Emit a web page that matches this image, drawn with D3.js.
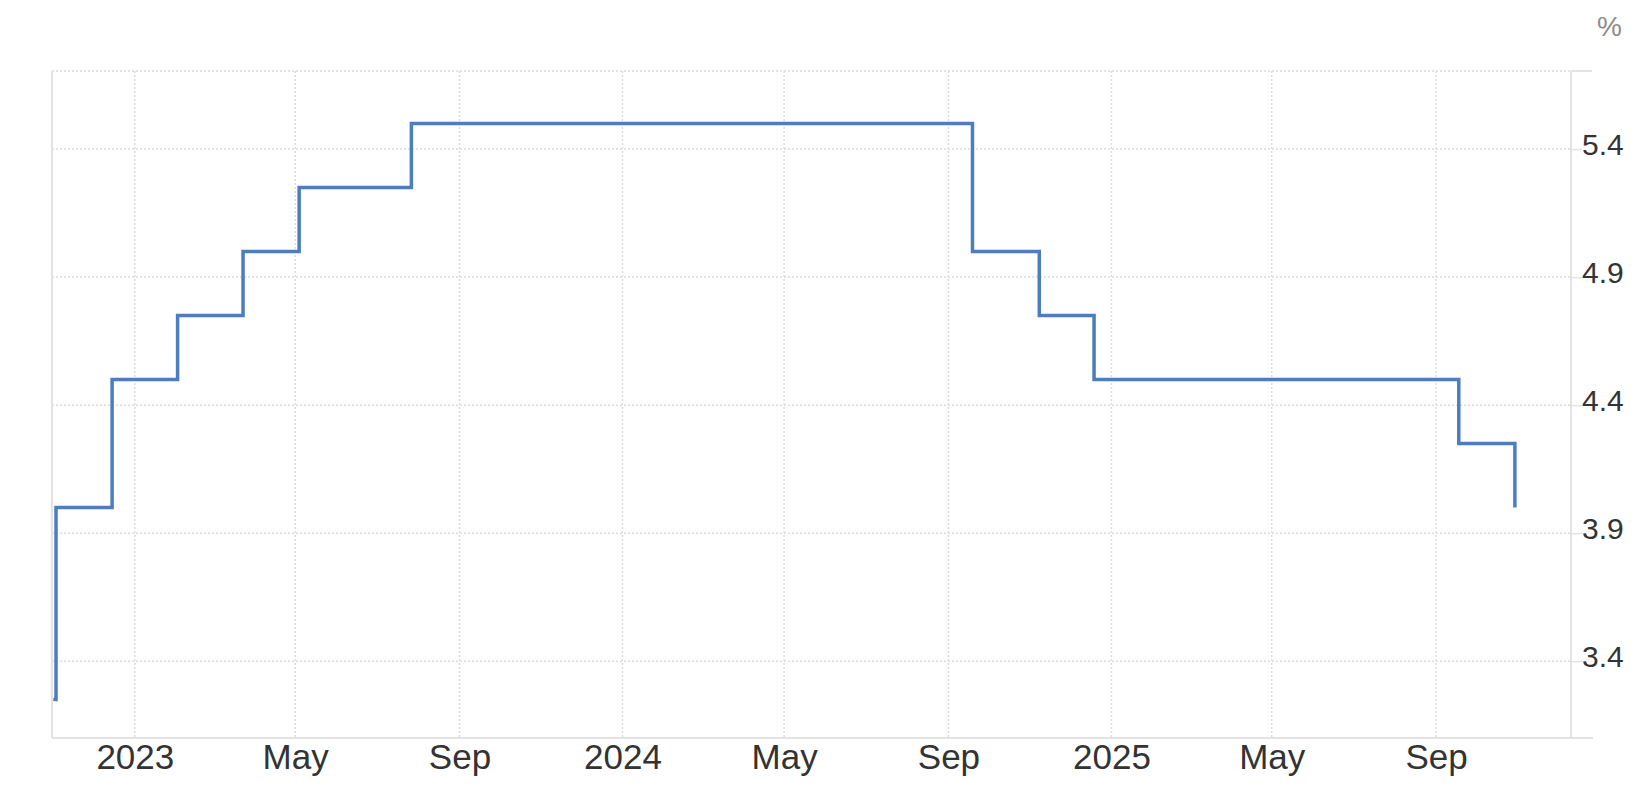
<!DOCTYPE html>
<html>
<head>
<meta charset="utf-8">
<script src="https://cdn.jsdelivr.net/npm/d3@7"></script>
<style>
  body { margin: 0; background: #fff; }
  .grid line { stroke: #dcdcdc; stroke-width: 1.5; stroke-dasharray: 2,2; }
  .xlab, .ylab { font-family: "Liberation Sans", Arial, Helvetica, sans-serif; fill: #333; }
</style>
</head>
<body>
<div id="chart"></div>
<script type="text/javascript">
// rate changes (upper bound), value holds from that date on
var dates = ["2022-11-01", "2022-11-03", "2022-12-15", "2023-02-02", "2023-03-23", "2023-05-04",
             "2023-07-27", "2024-09-19", "2024-11-08", "2024-12-19", "2025-09-18", "2025-10-30"];
var rates = [3.25, 4.0, 4.5, 4.75, 5.0, 5.25, 5.5, 5.0, 4.75, 4.5, 4.25, 4.0];

// axis ticks
var xTickDates = ["2023-01-01", "2023-05-01", "2023-09-01", "2024-01-01", "2024-05-01",
                  "2024-09-01", "2025-01-01", "2025-05-01", "2025-09-01"];
var xTickLabels = ["2023", "May", "Sep", "2024", "May", "Sep", "2025", "May", "Sep"];
var yTicks = [3.4, 3.9, 4.4, 4.9, 5.4];
var xDomain = ["2022-10-31", "2025-12-11"];
var yDomain = [3.1, 5.705];

var parseTime = d3.timeParse("%Y-%m-%d");

var margin = {top: 71, right: 77, bottom: 62, left: 52},
    fullW = 1648, fullH = 800,
    width = fullW - margin.left - margin.right,
    height = fullH - margin.top - margin.bottom;

var data = dates.map(function(d, i) { return {date: parseTime(d), rate: rates[i]}; });

// set the ranges
var x = d3.scaleTime().domain(xDomain.map(parseTime)).range([0, width]);
var y = d3.scaleLinear().domain(yDomain).range([height, 0]);

var svg = d3.select("#chart").append("svg")
    .attr("width", fullW)
    .attr("height", fullH)
  .append("g")
    .attr("transform", "translate(" + margin.left + "," + margin.top + ")");

// dotted grid
var grid = svg.append("g").attr("class", "grid");
grid.selectAll(".vg").data(xTickDates).enter().append("line")
    .attr("x1", function(d) { return x(parseTime(d)); })
    .attr("x2", function(d) { return x(parseTime(d)); })
    .attr("y1", 0).attr("y2", height);
grid.selectAll(".hg").data(yTicks.concat([yDomain[1]])).enter().append("line")
    .attr("x1", 0).attr("x2", width)
    .attr("y1", function(d) { return y(d); })
    .attr("y2", function(d) { return y(d); });

// frame: left, right and bottom axis lines
var frame = svg.append("g").attr("stroke", "#e3e3e3").attr("stroke-width", 2);
frame.append("line").attr("x1", 0).attr("x2", 0).attr("y1", 0).attr("y2", height);
frame.append("line").attr("x1", width).attr("x2", width).attr("y1", 0).attr("y2", height);
frame.append("line").attr("x1", 0).attr("x2", width + 22).attr("y1", height).attr("y2", height);
frame.append("line").attr("x1", width).attr("x2", width + 21).attr("y1", 0).attr("y2", 0);

// Y axis on the right
var yAxis = svg.append("g")
    .attr("transform", "translate(" + width + ",0)")
    .call(d3.axisRight(y).tickValues(yTicks).tickSize(11).tickPadding(0).tickFormat(d3.format(".1f")));
yAxis.select(".domain").remove();
yAxis.selectAll(".tick line").attr("stroke", "#e3e3e3").attr("stroke-width", 1.5);
yAxis.selectAll(".tick text")
    .attr("class", "ylab")
    .attr("x", 11)
    .attr("dy", "0.18em")
    .style("font-size", "30px")
    .style("font-family", "'Liberation Sans', Arial, Helvetica, sans-serif")
    .attr("fill", "#333");

// X axis
var xAxis = svg.append("g")
    .attr("transform", "translate(0," + height + ")")
    .call(d3.axisBottom(x).tickValues(xTickDates.map(parseTime)).tickSize(0).tickPadding(0)
      .tickFormat(function(d, i) { return xTickLabels[i]; }));
xAxis.select(".domain").remove();
xAxis.selectAll(".tick text")
    .attr("class", "xlab")
    .attr("y", 31)
    .attr("dy", 0)
    .style("font-size", "35px")
    .style("font-family", "'Liberation Sans', Arial, Helvetica, sans-serif")
    .attr("fill", "#333");

// unit label
svg.append("text")
    .attr("x", width + 51)
    .attr("y", -35)
    .attr("text-anchor", "end")
    .style("font-family", "'Liberation Sans', Arial, Helvetica, sans-serif")
    .style("font-size", "28px")
    .attr("fill", "#8c8c8c")
    .text("%");

// step line
var valueline = d3.line()
    .curve(d3.curveStepAfter)
    .x(function(d) { return x(d.date); })
    .y(function(d) { return y(d.rate); });

svg.append("path")
    .datum(data)
    .attr("fill", "none")
    .attr("stroke", "#4a7ebf")
    .attr("stroke-width", 3.5)
    .attr("stroke-linejoin", "miter")
    .attr("d", valueline);
</script>
</body>
</html>
